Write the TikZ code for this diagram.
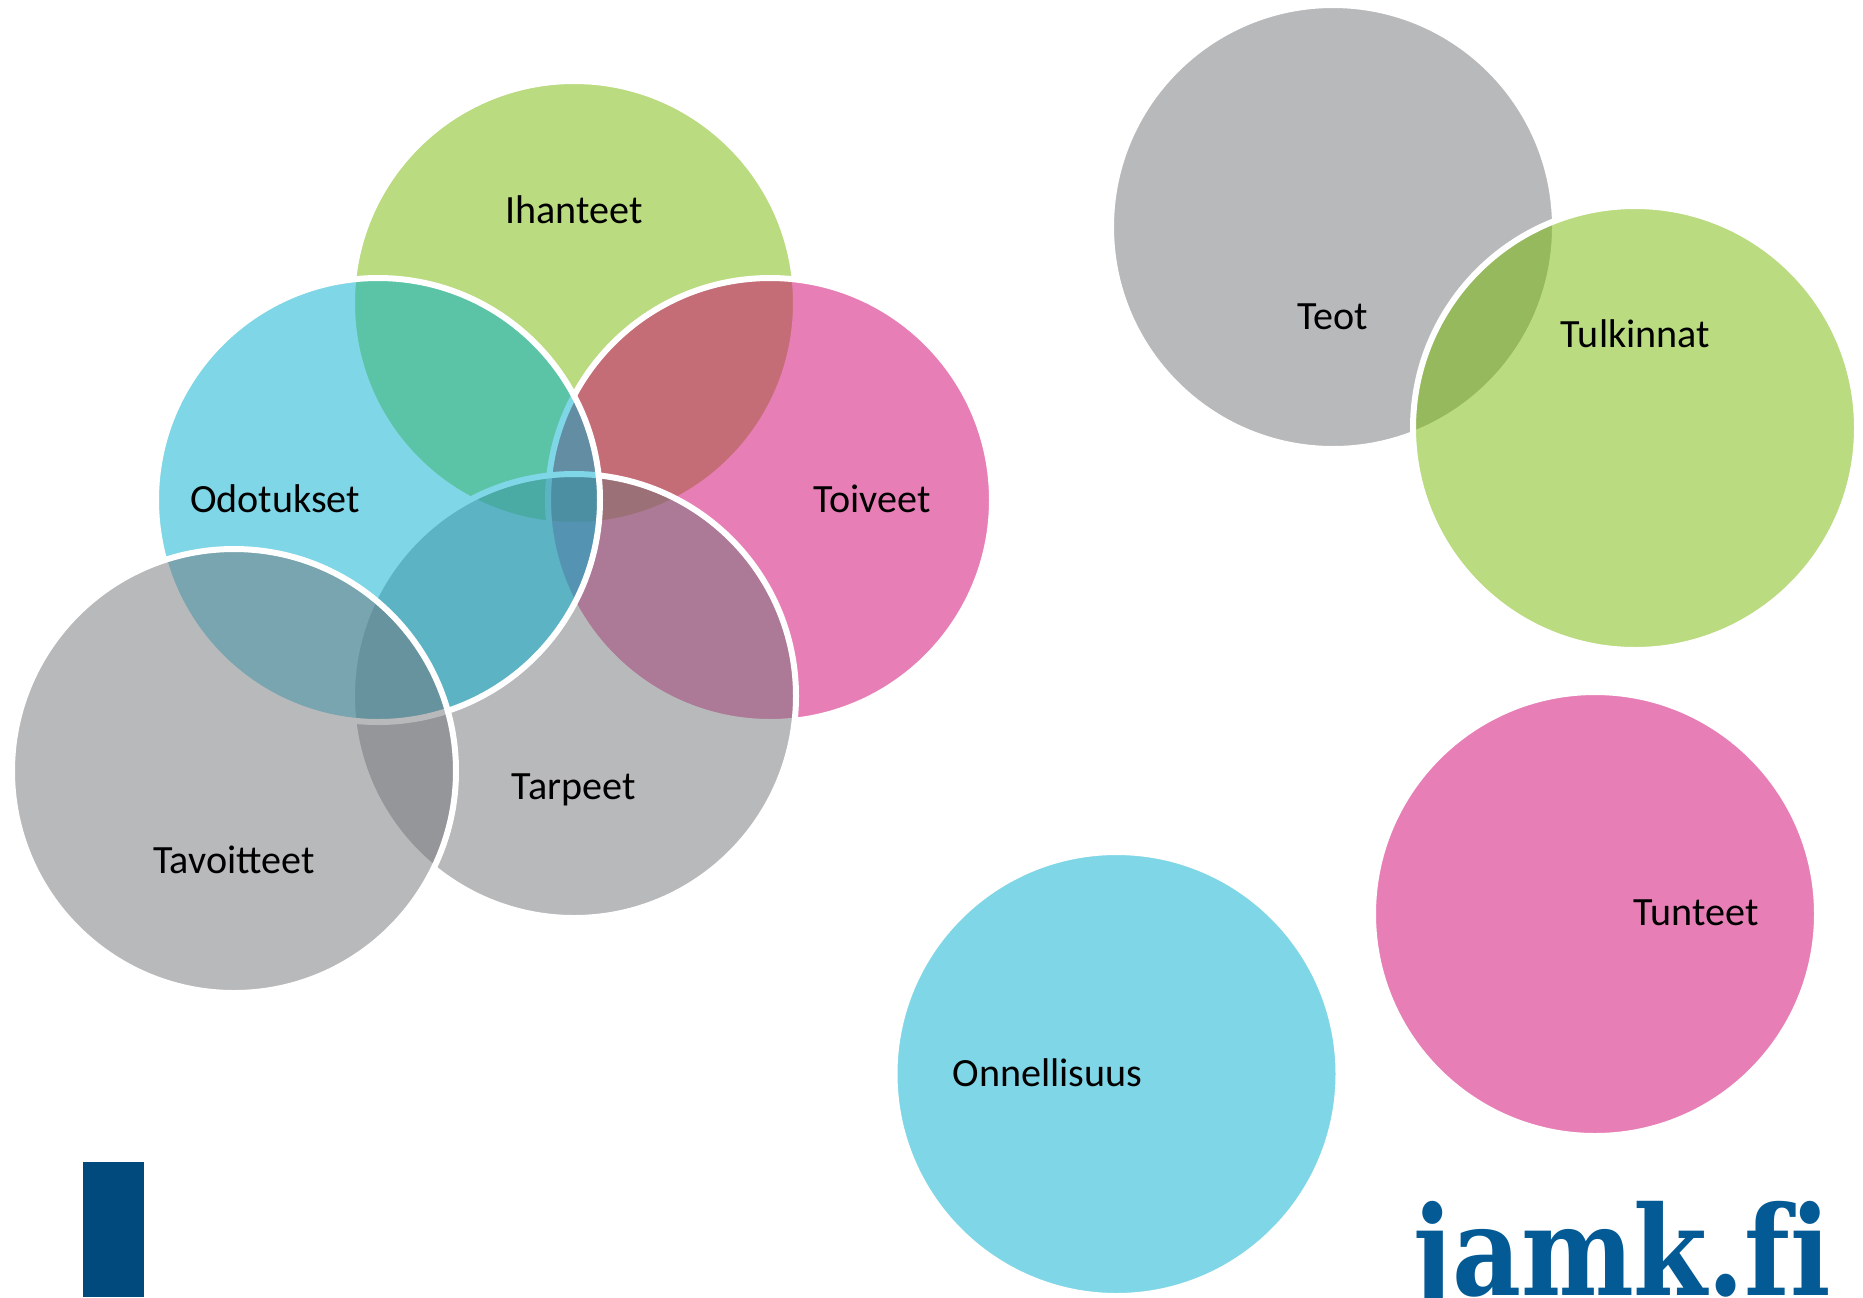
\documentclass[tikz,border=0pt]{standalone}
\usepackage{fontspec}
\setmainfont{Carlito}
\newfontfamily\logofont[FakeStretch=0.86,Ligatures=NoCommon]{DejaVu Serif Bold}
\definecolor{vgreen}{HTML}{77B901}
\definecolor{vcyan}{HTML}{00AECE}
\definecolor{vpink}{HTML}{D1006F}
\definecolor{vgray}{HTML}{737579}
\definecolor{jamkblue}{HTML}{004A7D}
\definecolor{jamklogo}{HTML}{035A94}
\tikzset{
  venn/.style={circle, minimum size=222pt, inner sep=0pt, line width=3pt, draw=white, draw opacity=1, fill opacity=.5},
  lbl/.style={inner sep=0pt, text=black, font=\fontsize{20.05}{24}\selectfont},
}
\begin{document}
\begin{tikzpicture}[x=0.5pt,y=-0.5pt]
\useasboundingbox (0,0) rectangle (1863,1297);
\fill[white] (0,0) rectangle (1863,1297);
% left cluster, in stacking order
\node[venn, fill=vgreen] (ihanteet) at (574,303) {};
\node[venn, fill=vpink]  (toiveet)  at (770,500) {};
\node[venn, fill=vgray]  (tarpeet)  at (574,696) {};
\node[venn, fill=vcyan]  (odotukset) at (378,500) {};
\node[venn, fill=vgray]  (tavoitteet) at (234,771) {};
% right group
\node[venn, fill=vgray]  (teot) at (1333,227) {};
\node[venn, fill=vgreen] (tulkinnat) at (1635,428) {};
\node[venn, fill=vpink]  (tunteet) at (1595,914) {};
\node[venn, fill=vcyan]  (onnellisuus) at (1116.5,1074) {};
% labels
\node[lbl] (l1) at (574,210) {Ihanteet};
\node[lbl] (l2) at (275,498.5) {Odotukset};
\node[lbl] (l3) at (872,498.5) {Toiveet};
\node[lbl] (l4) at (573.5,790) {Tarpeet};
\node[lbl] (l5) at (234,860) {Tavoitteet};
\node[lbl] (l6) at (1333,317) {Teot};
\node[lbl] (l7) at (1635.5,334) {Tulkinnat};
\node[lbl] (l8) at (1696,913) {Tunteet};
\node[lbl] (l9) at (1047.5,1073) {Onnellisuus};
% bar and logo
\fill[jamkblue] (83,1162) rectangle (144,1297);
\node[anchor=base west, inner sep=0pt, text=jamklogo, font=\fontsize{62}{62}\logofont] (logo) at (1413,1295) {jamk.fi};
\end{tikzpicture}
\end{document}
